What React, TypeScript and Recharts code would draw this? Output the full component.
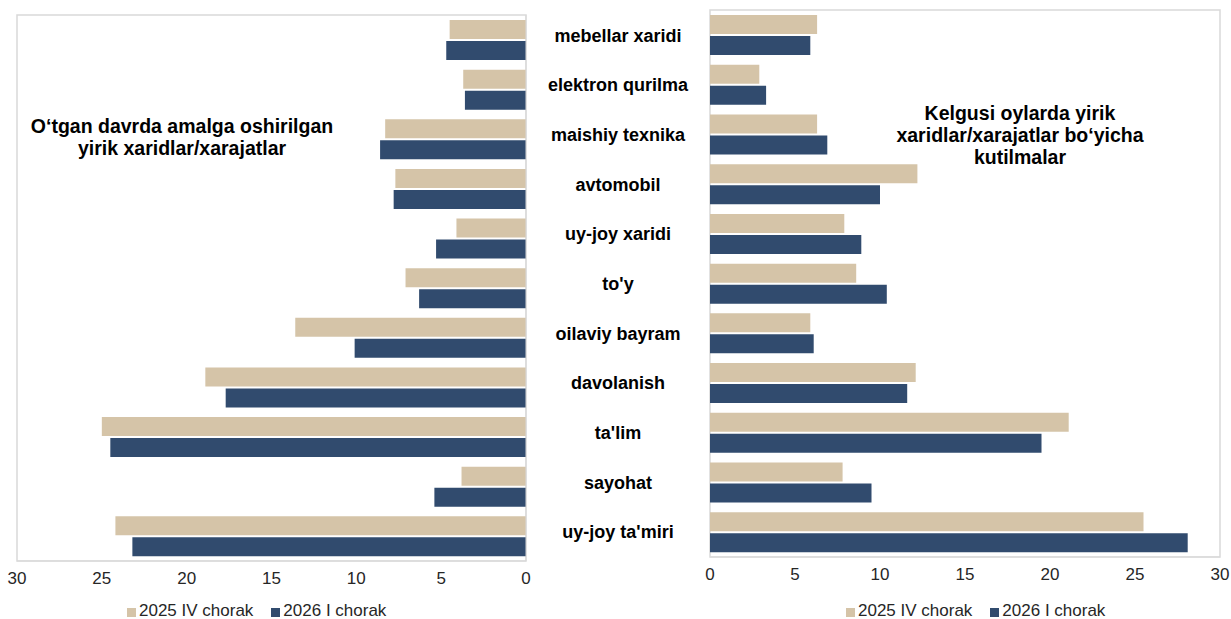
import React from 'react';
import { BarChart, Bar, XAxis, YAxis, ReferenceArea } from 'recharts';

const categories = [
  'mebellar xaridi',
  'elektron qurilma',
  'maishiy texnika',
  'avtomobil',
  'uy-joy xaridi',
  "to'y",
  'oilaviy bayram',
  'davolanish',
  "ta'lim",
  'sayohat',
  "uy-joy ta'miri",
];

// O'tgan davrda amalga oshirilgan
const pastQ4 = [4.5, 3.7, 8.3, 7.7, 4.1, 7.1, 13.6, 18.9, 25.0, 3.8, 24.2];
const pastQ1 = [4.7, 3.6, 8.6, 7.8, 5.3, 6.3, 10.1, 17.7, 24.5, 5.4, 23.2];

// Kelgusi oylarda kutilmalar
const nextQ4 = [6.3, 2.9, 6.3, 12.2, 7.9, 8.6, 5.9, 12.1, 21.1, 7.8, 25.5];
const nextQ1 = [5.9, 3.3, 6.9, 10.0, 8.9, 10.4, 6.1, 11.6, 19.5, 9.5, 28.1];

const xTicks = [0, 5, 10, 15, 20, 25, 30];
const seriesNames = ['2025 IV chorak', '2026 I chorak'];

const BEIGE = '#D5C4A8';
const NAVY = '#314B6E';
const GRID = '#D9D9D9';
const FONT = '"Liberation Sans", Arial, sans-serif';

const pastData = categories.map((name, i) => ({ name, q4: pastQ4[i], q1: pastQ1[i] }));
const nextData = categories.map((name, i) => ({ name, q4: nextQ4[i], q1: nextQ1[i] }));

const CategoryTick = (props: any) => {
  const { x, y, payload } = props;
  return (
    <text
      x={x + 92}
      y={y - 4}
      textAnchor="middle"
      dominantBaseline="central"
      fontFamily={FONT}
      fontWeight="bold"
      fontSize={18}
      fill="#000"
    >
      {payload.value}
    </text>
  );
};

const Legend = ({ left }: { left: number }) => (
  <div
    style={{
      position: 'absolute',
      left,
      top: 601,
      display: 'flex',
      alignItems: 'center',
      fontFamily: FONT,
      fontSize: 17,
      color: '#262626',
      whiteSpace: 'nowrap',
    }}
  >
    <span style={{ width: 9, height: 9, marginTop: 2, background: BEIGE, marginRight: 3 }} />
    <span style={{ marginRight: 18 }}>{seriesNames[0]}</span>
    <span style={{ width: 9, height: 9, marginTop: 2, background: NAVY, marginRight: 3 }} />
    <span>{seriesNames[1]}</span>
  </div>
);

const titleStyle: React.CSSProperties = {
  position: 'absolute',
  fontFamily: FONT,
  fontWeight: 'bold',
  fontSize: 19.5,
  lineHeight: '22px',
  textAlign: 'center',
  color: '#000',
  whiteSpace: 'nowrap',
};

const tickStyle = { fill: '#262626', fontSize: 17, fontFamily: FONT };

export default function App() {
  return (
    <div style={{ position: 'absolute', left: 0, top: 0, width: 1231, height: 619, background: '#fff' }}>
      <div style={{ position: 'absolute', left: 0, top: 0 }}>
        <BarChart
          width={710}
          height={619}
          data={pastData}
          layout="vertical"
          margin={{ top: 15, right: 0, left: 17, bottom: 28 }}
          barSize={19}
          barGap={2}
        >
          <XAxis
            type="number"
            domain={[0, 30]}
            ticks={xTicks}
            reversed
            height={30}
            axisLine={{ stroke: GRID }}
            tickLine={false}
            tickSize={0}
            tickMargin={11}
            tick={tickStyle}
            interval={0}
          />
          <YAxis
            type="category"
            dataKey="name"
            orientation="right"
            width={184}
            axisLine={{ stroke: GRID }}
            tickLine={false}
            tickSize={0}
            tickMargin={0}
            tick={<CategoryTick />}
            interval={0}
          />
          <ReferenceArea
            x1={0}
            x2={30}
            y1={categories[0]}
            y2={categories[categories.length - 1]}
            fill="none"
            stroke={GRID}
            strokeWidth={1.5}
          />
          <Bar dataKey="q4" name={seriesNames[0]} fill={BEIGE} isAnimationActive={false} />
          <Bar dataKey="q1" name={seriesNames[1]} fill={NAVY} isAnimationActive={false} />
        </BarChart>
      </div>

      <div style={{ position: 'absolute', left: 700, top: 0 }}>
        <BarChart
          width={531}
          height={619}
          data={nextData}
          layout="vertical"
          margin={{ top: 10, right: 11, left: 10, bottom: 32 }}
          barSize={19}
          barGap={2}
        >
          <XAxis
            type="number"
            domain={[0, 30]}
            ticks={xTicks}
            height={30}
            axisLine={{ stroke: GRID }}
            tickLine={false}
            tickSize={0}
            tickMargin={11}
            tick={tickStyle}
            interval={0}
          />
          <YAxis type="category" dataKey="name" hide width={0} />
          <ReferenceArea
            x1={0}
            x2={30}
            y1={categories[0]}
            y2={categories[categories.length - 1]}
            fill="none"
            stroke={GRID}
            strokeWidth={1.5}
          />
          <Bar dataKey="q4" name={seriesNames[0]} fill={BEIGE} isAnimationActive={false} />
          <Bar dataKey="q1" name={seriesNames[1]} fill={NAVY} isAnimationActive={false} />
        </BarChart>
      </div>

      <div style={{ ...titleStyle, left: 182, top: 115, transform: 'translateX(-50%)' }}>
        O‘tgan davrda amalga oshirilgan
        <br />
        yirik xaridlar/xarajatlar
      </div>
      <div style={{ ...titleStyle, left: 1020, top: 102, transform: 'translateX(-50%)' }}>
        Kelgusi oylarda yirik
        <br />
        xaridlar/xarajatlar bo‘yicha
        <br />
        kutilmalar
      </div>

      <Legend left={127} />
      <Legend left={846} />
    </div>
  );
}
